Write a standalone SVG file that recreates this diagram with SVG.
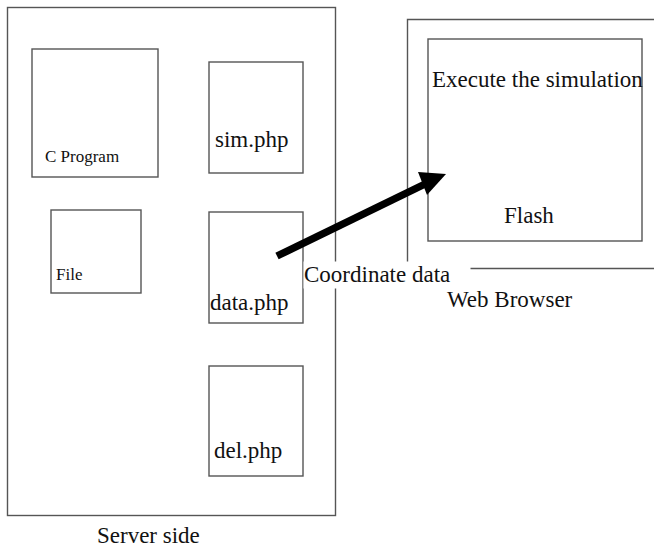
<svg xmlns="http://www.w3.org/2000/svg" width="654" height="550" viewBox="0 0 654 550">
  <style>
    .box { fill: none; stroke: #555; stroke-width: 1.4; }
    .lbl { font-family: "Liberation Serif", "Times New Roman", serif; fill: #111; }
    .big { font-size: 23px; }
    .small { font-size: 17px; }
  </style>
  <rect width="654" height="550" fill="#fff"/>

  <g id="server">
    <rect class="box" x="7.5" y="7.5" width="328" height="508"/>
    <text class="lbl big" x="97" y="543">Server side</text>
  </g>

  <g id="browser">
    <path class="box" d="M660 19.5 H407.5 V268.5 H660"/>
    <text class="lbl big" x="447" y="307">Web Browser</text>
  </g>

  <g id="cprogram">
    <rect class="box" x="32" y="49" width="126" height="128"/>
    <text class="lbl small" x="45" y="162">C Program</text>
  </g>

  <g id="simphp">
    <rect class="box" x="209" y="62" width="94" height="111"/>
    <text class="lbl big" x="215" y="147">sim.php</text>
  </g>

  <g id="file">
    <rect class="box" x="51" y="210" width="90" height="83"/>
    <text class="lbl small" x="56" y="280">File</text>
  </g>

  <g id="dataphp">
    <rect class="box" x="209" y="212" width="94" height="111"/>
    <text class="lbl big" x="210" y="310">data.php</text>
  </g>

  <g id="delphp">
    <rect class="box" x="209" y="366" width="94" height="110"/>
    <text class="lbl big" x="214" y="458">del.php</text>
  </g>

  <g id="flash">
    <rect class="box" x="428" y="39" width="214" height="202"/>
    <text class="lbl big" x="432" y="87">Execute the simulation</text>
    <text class="lbl big" x="504" y="223">Flash</text>
  </g>

  <g id="connectors">
    <line x1="277" y1="256" x2="424" y2="184.5" stroke="#000" stroke-width="7.5"/>
    <polygon points="446,174 418,172 427,195" fill="#000"/>
    <rect x="303.5" y="261.5" width="167" height="27" fill="#fff"/>
    <text class="lbl big" x="304" y="282">Coordinate data</text>
  </g>
</svg>
